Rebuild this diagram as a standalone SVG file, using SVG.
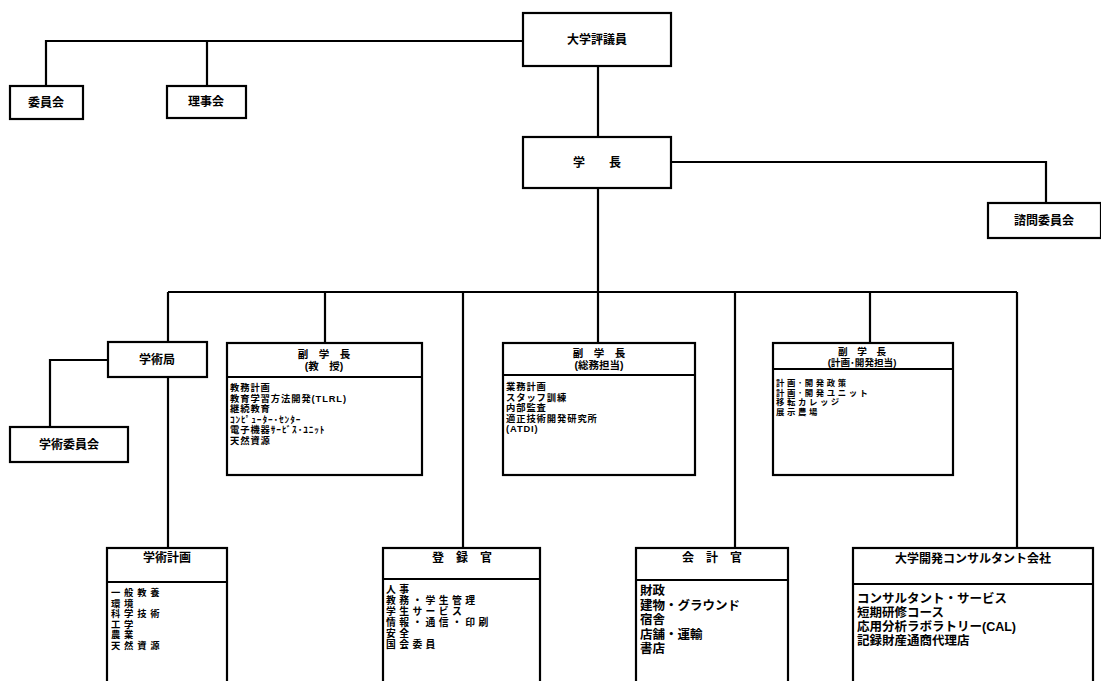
<svg xmlns="http://www.w3.org/2000/svg" width="1101" height="681" viewBox="0 0 1101 681">
<style>
.bx{fill:#fff;stroke:#000;stroke-width:2.2}
.ln{fill:none;stroke:#000;stroke-width:2.2}
.t{font-family:"Liberation Sans","Noto Sans CJK JP",sans-serif;font-weight:700;fill:#000}
.c{text-anchor:middle}
.h{font-size:12px}
.hs{font-size:10.5px}
.hp{font-size:9.6px}
.s{font-size:9.3px;letter-spacing:0.9px}
.p{font-size:8.4px;letter-spacing:2.6px}
.g{font-size:9.3px;letter-spacing:3.8px}
.r{font-size:9.8px;letter-spacing:3.4px}
.m{font-size:12.5px}
</style>
<rect width="1101" height="681" fill="#fff"/>
<g id="connectors">
<path class="ln" d="M523,41 H46 V86 M207,41 V86"/>
<path class="ln" d="M598,66 V137"/>
<path class="ln" d="M671,162 H1046 V203"/>
<path class="ln" d="M598,188 V292 M168,292 H1017"/>
<path class="ln" d="M168,292 V342 M325,292 V343 M463,292 V548 M598,292 V343 M735,292 V548 M870,292 V343 M1017,292 V548"/>
<path class="ln" d="M108,360 H50 V427"/>
<path class="ln" d="M168,377 V548"/>
</g>
<g id="daigaku-hyogiin">
<rect class="bx" x="523" y="13" width="148" height="53"/>
<text class="t h c" x="597" y="44">大学評議員</text>
</g>
<g id="iinkai">
<rect class="bx" x="10" y="86" width="73" height="33"/>
<text class="t h c" x="46" y="107">委員会</text>
</g>
<g id="rijikai">
<rect class="bx" x="167" y="86" width="79" height="32"/>
<text class="t h c" x="206" y="106">理事会</text>
</g>
<g id="gakucho">
<rect class="bx" x="523" y="137" width="148" height="51"/>
<text class="t h c" x="597" y="167">学　　長</text>
</g>
<g id="shimon-iinkai">
<rect class="bx" x="988" y="203" width="113" height="35"/>
<text class="t h c" x="1044" y="225">諮問委員会</text>
</g>
<g id="gakujutsukyoku">
<rect class="bx" x="108" y="342" width="99" height="35"/>
<text class="t h c" x="157" y="364">学術局</text>
</g>
<g id="gakujutsu-iinkai">
<rect class="bx" x="10" y="427" width="118" height="35"/>
<text class="t h c" x="69" y="449">学術委員会</text>
</g>
<g id="fukugakucho-kyoju">
<rect class="bx" x="227" y="343" width="195" height="132"/>
<path class="ln" d="M227,377 H422"/>
<text class="t hs c" x="324" y="358">副　学　長<tspan x="324" dy="12">(教　授)</tspan></text>
<text class="t s" x="230" y="391">教務計画<tspan x="230" dy="10.5">教育学習方法開発(TLRL)</tspan><tspan x="230" dy="10.5">継続教育</tspan><tspan x="230" dy="10.5">ｺﾝﾋﾟｭｰﾀｰ･ｾﾝﾀｰ</tspan><tspan x="230" dy="10.5">電子機器ｻｰﾋﾞｽ･ﾕﾆｯﾄ</tspan><tspan x="230" dy="10.5">天然資源</tspan></text>
</g>
<g id="fukugakucho-somu">
<rect class="bx" x="503" y="343" width="192" height="132"/>
<path class="ln" d="M503,375 H695"/>
<text class="t hs c" x="599" y="357">副　学　長<tspan x="599" dy="12">(総務担当)</tspan></text>
<text class="t s" x="506" y="390">業務計画<tspan x="506" dy="10.5">スタッフ訓練</tspan><tspan x="506" dy="10.5">内部監査</tspan><tspan x="506" dy="10.5">適正技術開発研究所</tspan><tspan x="506" dy="10.5">(ATDI)</tspan></text>
</g>
<g id="fukugakucho-keikaku">
<rect class="bx" x="773" y="343" width="180" height="132"/>
<path class="ln" d="M773,369 H953"/>
<text class="t hp c" x="862" y="355">副　学　長<tspan x="862" dy="11">(計画･開発担当)</tspan></text>
<text class="t p" x="776" y="386">計画･開発政策<tspan x="776" dy="9.5">計画･開発ユニット</tspan><tspan x="776" dy="9.5">移転カレッジ</tspan><tspan x="776" dy="9.5">展示農場</tspan></text>
</g>
<g id="gakujutsu-keikaku">
<rect class="bx" x="107" y="548" width="120" height="150"/>
<path class="ln" d="M107,582 H227"/>
<text class="t h c" x="167" y="562">学術計画</text>
<text class="t g" x="111" y="596">一般教養<tspan x="111" dy="10.5">環境</tspan><tspan x="111" dy="10.5">科学技術</tspan><tspan x="111" dy="10.5">工学</tspan><tspan x="111" dy="10.5">農業</tspan><tspan x="111" dy="10.5">天然資源</tspan></text>
</g>
<g id="torokukan">
<rect class="bx" x="383" y="548" width="157" height="150"/>
<path class="ln" d="M383,579 H540"/>
<text class="t h c" x="462" y="562">登　録　官</text>
<text class="t r" x="386" y="593">人事<tspan x="386" dy="11">教務・学生管理</tspan><tspan x="386" dy="11">学生サービス</tspan><tspan x="386" dy="11">情報・通信・印刷</tspan><tspan x="386" dy="11">安全</tspan><tspan x="386" dy="11">国会委員</tspan></text>
</g>
<g id="kaikeikan">
<rect class="bx" x="636" y="548" width="152" height="150"/>
<path class="ln" d="M636,580 H788"/>
<text class="t h c" x="712" y="562">会　計　官</text>
<text class="t m" x="640" y="595">財政<tspan x="640" dy="14.5">建物・グラウンド</tspan><tspan x="640" dy="14.5">宿舎</tspan><tspan x="640" dy="14.5">店舗・運輸</tspan><tspan x="640" dy="14.5">書店</tspan></text>
</g>
<g id="consultant">
<rect class="bx" x="853" y="548" width="240" height="150"/>
<path class="ln" d="M853,584 H1093"/>
<text class="t h c" x="973" y="563">大学開発コンサルタント会社</text>
<text class="t m" x="857" y="603">コンサルタント・サービス<tspan x="857" dy="14">短期研修コース</tspan><tspan x="857" dy="14">応用分析ラボラトリー(CAL)</tspan><tspan x="857" dy="14">記録財産通商代理店</tspan></text>
</g>
</svg>
